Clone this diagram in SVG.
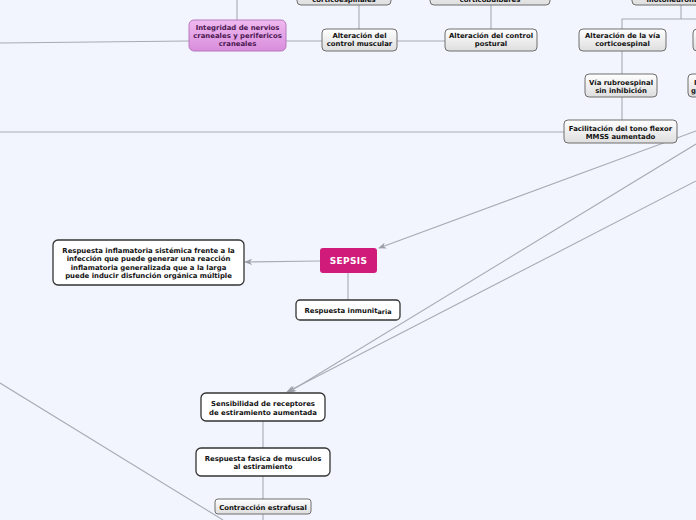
<svg xmlns="http://www.w3.org/2000/svg" width="696" height="520" viewBox="0 0 696 520">
<defs>
<linearGradient id="gGray" x1="0" y1="0" x2="0" y2="1"><stop offset="0" stop-color="#ffffff"/><stop offset="1" stop-color="#dedede"/></linearGradient>
<linearGradient id="gPurple" x1="0" y1="0" x2="0" y2="1"><stop offset="0" stop-color="#efb9f0"/><stop offset="1" stop-color="#d98ddb"/></linearGradient>
<marker id="arr" viewBox="0 0 10 8" refX="9" refY="4" markerWidth="8" markerHeight="6.4" orient="auto" markerUnits="userSpaceOnUse">
<path d="M0,0 L10,4 L0,8 L3,4 Z" fill="#9a9ea6"/>
</marker>
<style>
.ln{stroke:#a7abb4;stroke-width:1.1;fill:none}
.gray{fill:url(#gGray);stroke:#6e6e6e;stroke-width:1}
.white{fill:#ffffff;stroke:#333333;stroke-width:1.3}
.purple{fill:url(#gPurple);stroke:#b878c0;stroke-width:1}
.t{font-family:"DejaVu Sans",Verdana,sans-serif;font-weight:bold;font-size:6.9px;fill:#111;text-anchor:middle}
.tp{fill:#4a1650}
.ts{font-family:"DejaVu Sans",Verdana,sans-serif;font-weight:bold;font-size:9px;fill:#ffffff;text-anchor:middle;letter-spacing:0.3px}
</style>
</defs>
<rect width="696" height="520" fill="#f2f5fd"/>
<g id="connectors">
<line class="ln" x1="237" y1="0" x2="237" y2="20"/>
<line class="ln" x1="0" y1="43" x2="189" y2="41"/>
<line class="ln" x1="286" y1="41" x2="322" y2="41"/>
<line class="ln" x1="359" y1="5" x2="359" y2="29"/>
<line class="ln" x1="397" y1="41" x2="445" y2="41"/>
<line class="ln" x1="491" y1="5" x2="491" y2="29"/>
<line class="ln" x1="681" y1="5" x2="681" y2="19"/>
<polyline class="ln" points="622,29 622,19 696,19"/>
<line class="ln" x1="622" y1="51" x2="622" y2="74"/>
<line class="ln" x1="622" y1="97" x2="622" y2="120"/>
<line class="ln" x1="0" y1="132" x2="564" y2="132"/>
<line class="ln" x1="696" y1="131" x2="379" y2="248" marker-end="url(#arr)"/>
<line class="ln" x1="696" y1="144" x2="289" y2="392" marker-end="url(#arr)"/>
<line class="ln" x1="696" y1="181" x2="287" y2="392" marker-end="url(#arr)"/>
<line class="ln" x1="320" y1="261" x2="245" y2="262" marker-end="url(#arr)"/>
<line class="ln" x1="348" y1="273" x2="348" y2="300"/>
<line class="ln" x1="263" y1="421" x2="263" y2="448"/>
<line class="ln" x1="263" y1="476" x2="263" y2="499"/>
<line class="ln" x1="263" y1="514" x2="263" y2="520"/>
<line class="ln" x1="0" y1="383" x2="223" y2="520"/>
</g>
<g id="n-top1"><rect class="gray" x="297" y="-20" width="94" height="25" rx="4"/><text class="t" x="344" y="1.6">corticoespinales</text></g>
<g id="n-top2"><rect class="gray" x="430" y="-20" width="120" height="25" rx="4"/><text class="t" x="490" y="1.6">corticobulbares</text></g>
<g id="n-top3"><rect class="gray" x="632" y="-20" width="110" height="25" rx="4"/><text class="t" x="690" y="1.6">motoneurona superior</text></g>
<g id="n-integridad"><rect class="purple" x="189" y="20" width="97" height="31" rx="5"/><text class="t tp" x="237.5" y="29.5">Integridad de nervios</text><text class="t tp" x="237.5" y="37.5">craneales y perifericos</text><text class="t tp" x="237.5" y="46">craneales</text></g>
<g id="n-muscular"><rect class="gray" x="322" y="29" width="75" height="22" rx="4"/><text class="t" x="359.5" y="37.5">Alteración del</text><text class="t" x="359.5" y="45.5">control muscular</text></g>
<g id="n-postural"><rect class="gray" x="445" y="29" width="92" height="22" rx="4"/><text class="t" x="491" y="37.5">Alteración del control</text><text class="t" x="491" y="45.5">postural</text></g>
<g id="n-corticoespinal"><rect class="gray" x="579" y="29" width="87" height="22" rx="4"/><text class="t" x="622.5" y="37.5">Alteración de la vía</text><text class="t" x="622.5" y="45.5">corticoespinal</text></g>
<g id="n-right1"><rect class="gray" x="693" y="29" width="60" height="22" rx="4"/></g>
<g id="n-rubro"><rect class="gray" x="585" y="74" width="72" height="23" rx="4"/><text class="t" x="621" y="84.5">Vía rubroespinal</text><text class="t" x="621" y="92.5">sin inhibición</text></g>
<g id="n-right2"><rect class="gray" x="688" y="74" width="70" height="23" rx="4"/><text class="t" x="694" y="84.5" style="text-anchor:start">Inhibición</text><text class="t" x="691" y="92.5" style="text-anchor:start">gamma</text></g>
<g id="n-facilitacion"><rect class="gray" x="564" y="120" width="113" height="23" rx="4"/><text class="t" x="620.5" y="130.5">Facilitación del tono flexor</text><text class="t" x="620.5" y="138.5">MMSS aumentado</text></g>
<g id="n-sepsis"><rect x="320" y="248" width="57" height="25" rx="3" fill="#d11b7b"/><text class="ts" x="348.5" y="264.2">SEPSIS</text></g>
<g id="n-inflamatoria"><rect class="white" x="53" y="240" width="191" height="45" rx="5"/><text class="t" x="148.5" y="252.5">Respuesta inflamatoria sistémica frente a la</text><text class="t" x="148.5" y="261">infección que puede generar una reacción</text><text class="t" x="148.5" y="269.5">inflamatoria generalizada que a la larga</text><text class="t" x="148.5" y="278">puede inducir disfunción orgánica múltiple</text></g>
<g id="n-inmunitaria"><rect class="white" x="296" y="300" width="104" height="20" rx="4"/><text class="t" x="348" y="313">Respuesta inmunit<tspan font-size="6.4px" dy="0.8">aria</tspan></text></g>
<g id="n-sensibilidad"><rect class="white" x="201" y="393" width="124" height="28" rx="5"/><text class="t" x="263" y="405.5">Sensibilidad de receptores</text><text class="t" x="263" y="414.5">de estiramiento aumentada</text></g>
<g id="n-fasica"><rect class="white" x="196" y="448" width="134" height="28" rx="5"/><text class="t" x="263" y="460.5">Respuesta fasica de musculos</text><text class="t" x="263" y="469">al estiramiento</text></g>
<g id="n-estrafusal"><rect class="gray" x="215" y="499" width="96" height="15" rx="3"/><text class="t" x="263" y="509.5">Contracción estrafusal</text></g>
</svg>
